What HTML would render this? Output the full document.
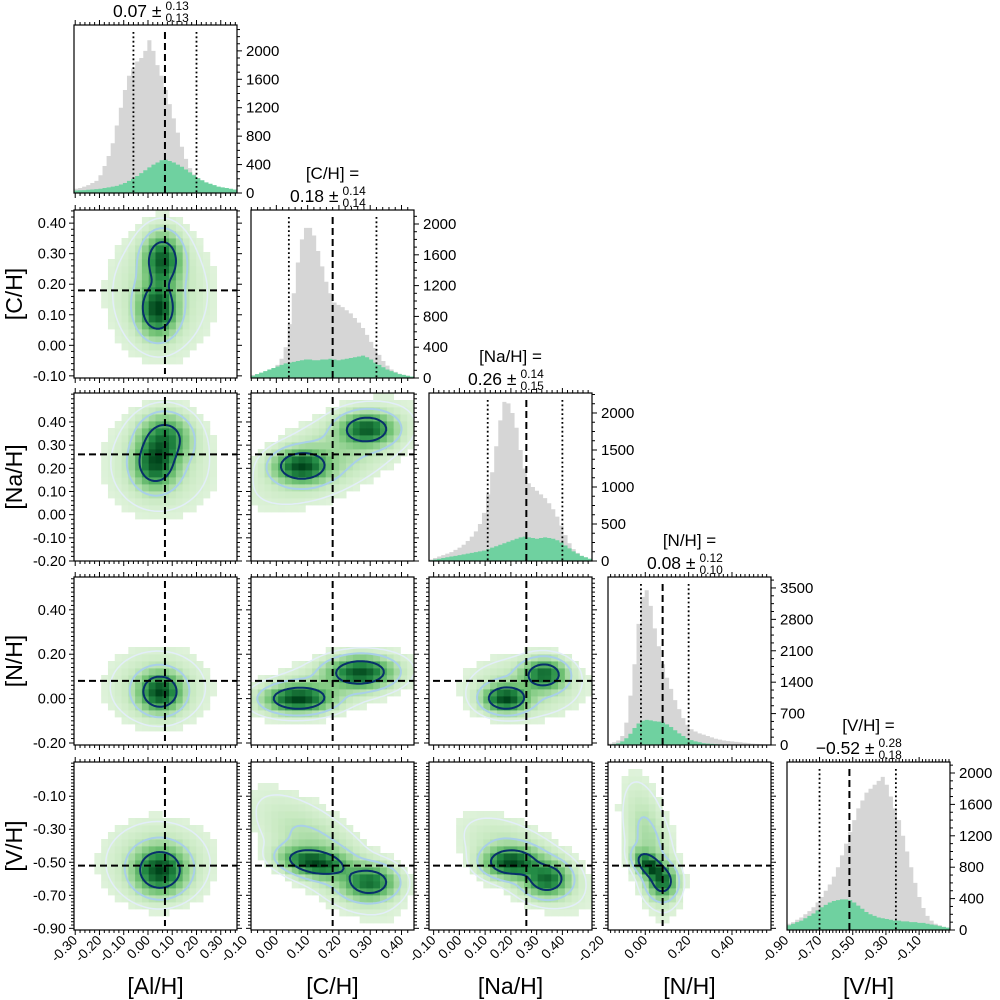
<!DOCTYPE html>
<html><head><meta charset="utf-8">
<style>
html,body{margin:0;padding:0;background:#fff;}
svg{display:block;font-family:"Liberation Sans","DejaVu Sans",sans-serif;}
</style></head>
<body>
<svg id="chart" width="1000" height="1000" viewBox="0 0 1000 1000" xmlns="http://www.w3.org/2000/svg"></svg>
<script>
// ---------- data ----------
const varNames = ["[Al/H]","[C/H]","[Na/H]","[N/H]","[V/H]"];
const medians = [0.07,0.18,0.26,0.08,-0.52];
const lowerQ = [-0.06,0.04,0.11,-0.02,-0.70];
const upperQ = [0.20,0.32,0.40,0.20,-0.24];
const titleVal = ["0.07","0.18","0.26","0.08","\u22120.52"];
const titleUp = ["0.13","0.14","0.14","0.12","0.28"];
const titleLo = ["0.13","0.14","0.15","0.10","0.18"];
const xRanges = [[-0.305,0.367],[-0.081,0.44],[-0.118,0.515],[-0.172,0.58],[-0.896,0.086]];
const yRanges = [null,[-0.107,0.443],[-0.2,0.525],[-0.209,0.548],[-0.91,0.107]];
const xTicks = [[-0.3,-0.2,-0.1,0,0.1,0.2,0.3],[-0.1,0,0.1,0.2,0.3,0.4],[-0.1,0,0.1,0.2,0.3,0.4],[-0.2,0,0.2,0.4],[-0.9,-0.7,-0.5,-0.3,-0.1]];
const yTicks = [null,[-0.1,0,0.1,0.2,0.3,0.4],[-0.2,-0.1,0,0.1,0.2,0.3,0.4],[-0.2,0,0.2,0.4],[-0.9,-0.7,-0.5,-0.3,-0.1]];
const histMax = [2364,2182,2270,3744,2140];
const histTickStep = [400,400,500,700,400];
const histTickMax = [2000,2000,2000,3500,2000];
const grayAl = [60,70,90,110,140,170,250,380,520,700,950,1200,1450,1650,1750,1850,1900,2000,2150,2000,1800,1650,1450,1250,1050,850,650,480,350,260,200,150,110,80,60,40,30,20,15,10];
const greenAl = [35,38,40,45,50,55,60,70,80,90,100,120,140,170,200,240,280,320,360,400,430,460,470,450,430,400,370,330,290,250,210,180,150,130,110,90,80,70,60,50];
const grayC = [40,50,60,70,90,120,170,250,400,700,1100,1500,1800,1950,1950,1850,1650,1450,1250,1100,980,950,920,880,840,780,720,650,560,470,390,300,220,160,110,80,55,40,30,20];
const greenC = [30,50,70,90,110,130,150,170,190,200,210,220,230,240,240,230,230,240,240,250,240,230,240,250,260,270,280,290,270,240,200,170,140,110,90,70,50,40,30,20];
const grayNa = [20,40,60,80,100,120,150,180,220,270,330,400,500,650,900,1200,1550,1900,2150,2130,2000,1800,1500,1250,1050,1000,950,900,850,780,700,600,480,350,240,160,110,70,40,20];
const greenNa = [10,20,30,40,50,60,70,80,90,100,110,120,130,140,160,180,200,220,240,260,280,300,320,330,320,310,300,310,320,310,300,280,250,210,170,130,100,70,50,30];
const grayN = [30,60,100,200,500,1100,1800,2700,3300,3450,3100,2600,2200,1800,1500,1250,1000,800,600,450,350,300,260,230,200,170,140,120,100,90,80,70,60,50,40,30,25,20,15,10];
const greenN = [10,20,40,80,150,250,380,480,540,560,550,530,520,500,460,400,330,260,200,150,110,80,60,40,30,25,20,15,12,10,8,6,5,4,3,2,2,1,1,0];
const grayV = [80,100,130,160,200,240,290,350,420,500,580,680,800,950,1100,1250,1400,1550,1650,1750,1800,1850,1900,1950,1850,1700,1550,1400,1200,1000,800,600,420,280,180,120,80,60,40,30];
const greenV = [60,80,100,120,150,180,210,250,290,320,350,370,380,390,390,380,350,310,270,230,200,180,160,150,140,130,120,120,110,110,100,100,90,90,80,70,60,50,40,30];
const grayHists = [grayAl,grayC,grayNa,grayN,grayV];
const greenHists = [greenAl,greenC,greenNa,greenN,greenV];
// 2D density components: [cx, cy, sx, sy, rho, weight]
const compAlC = [[0.04,0.12,0.045,0.05,0,1],[0.06,0.28,0.045,0.05,0,0.9],[0.05,0.17,0.12,0.12,0,0.15]];
const compAlNa = [[0.03,0.22,0.05,0.06,0,1],[0.07,0.33,0.06,0.06,0,0.8],[0.05,0.22,0.13,0.13,0,0.15]];
const compCNa = [[0.08,0.21,0.05,0.04,0,1],[0.29,0.37,0.05,0.04,0,0.9],[0.18,0.26,0.14,0.12,0.6,0.2]];
const compAlN = [[0.05,0.03,0.05,0.05,0,1],[0.04,0.05,0.12,0.1,0,0.15]];
const compCN = [[0.07,0.0,0.06,0.035,0,1],[0.27,0.12,0.06,0.04,0,0.9],[0.17,0.06,0.14,0.08,0.5,0.15]];
const compNaN = [[0.18,0.0,0.05,0.035,0,1],[0.33,0.11,0.05,0.04,0,0.8],[0.25,0.05,0.13,0.08,0,0.15]];
const compAlV = [[0.05,-0.55,0.06,0.08,0,1],[0.04,-0.5,0.13,0.15,0,0.15]];
const compCV = [[0.12,-0.5,0.06,0.05,-0.3,1],[0.3,-0.62,0.05,0.06,0,0.8],[0.15,-0.45,0.12,0.2,-0.7,0.2]];
const compNaV = [[0.2,-0.5,0.06,0.05,0,1],[0.34,-0.6,0.05,0.06,0,0.8],[0.25,-0.5,0.13,0.15,-0.6,0.2]];
const compNV = [[0.02,-0.52,0.04,0.05,-0.5,1],[0.08,-0.62,0.04,0.06,0,0.7],[0.02,-0.4,0.07,0.22,-0.5,0.2]];
const comps2D = {"1-0":compAlC,"2-0":compAlNa,"2-1":compCNa,"3-0":compAlN,"3-1":compCN,"3-2":compNaN,"4-0":compAlV,"4-1":compCV,"4-2":compNaV,"4-3":compNV};

// ---------- layout ----------
const colX = [74,251,429,608,787];
const rowY = [25,210,393,577,762];
const PW = 163, PH = 168;
const NS = "http://www.w3.org/2000/svg";
const svg = document.getElementById("chart");
function mk(tag, attrs, parent){
  const e = document.createElementNS(NS, tag);
  for (const k in attrs) e.setAttribute(k, attrs[k]);
  (parent||svg).appendChild(e);
  return e;
}
function xScale(i, v){ const r = xRanges[i]; return colX[i] + (v - r[0]) / (r[1] - r[0]) * PW; }
function yScale(j, v){ const r = yRanges[j]; return rowY[j] + PH - (v - r[0]) / (r[1] - r[0]) * PH; }
function fmt(v){ const s = Math.abs(v).toFixed(2); return (v < -1e-9 ? "-" : "") + s; }
const greens = [[247,252,245],[199,233,192],[116,196,118],[35,139,69],[0,68,27]];
function gcol(t){
  t = Math.max(0, Math.min(1, t)) * 4;
  const k = Math.min(3, Math.floor(t)), f = t - k;
  const a = greens[k], b = greens[k+1];
  return "rgb(" + a.map((c,n)=>Math.round(c + (b[n]-c)*f)).join(",") + ")";
}
function dens(comps, x, y){
  let s = 0;
  for (const c of comps){
    const dx = (x - c[0]) / c[2], dy = (y - c[1]) / c[3], r = c[4];
    s += c[5] * Math.exp(-(dx*dx - 2*r*dx*dy + dy*dy) / (2*(1 - r*r)));
  }
  return s;
}
function ticksX(i, j, top, labels){
  const g = mk("g", {});
  
  
  const r = xRanges[i];
  const y0 = rowY[j], y1 = rowY[j] + PH;
  for (let v = Math.ceil(r[0]/0.02)*0.02; v <= r[1]; v += 0.02){
    const vv = Math.round(v*100)/100;
    const major = xTicks[i].some(t => Math.abs(t - vv) < 1e-6);
    const L = major ? 5 : 3;
    const x = xScale(i, vv);
    mk("line", {x1:x, x2:x, y1:y1, y2:y1+L, stroke:"#000", "stroke-width":1}, g);
    if (top) mk("line", {x1:x, x2:x, y1:y0, y2:y0-L, stroke:"#000", "stroke-width":1}, g);
  }
  if (labels){
    for (const t of xTicks[i]){
      const x = xScale(i, t);
      const tx = mk("text", {x:x+3, y:y1+11, "font-size":13.5, "text-anchor":"end", transform:"rotate(-45 "+(x+3)+" "+(y1+11)+")"}, g);
      
      
      tx.textContent = fmt(t);
    }
  }
}
function ticksY2D(i, j, labels){
  const g = mk("g", {});
  
  
  const r = yRanges[j];
  const x0 = colX[i], x1 = colX[i] + PW;
  for (let v = Math.ceil(r[0]/0.02)*0.02; v <= r[1]; v += 0.02){
    const vv = Math.round(v*100)/100;
    const major = yTicks[j].some(t => Math.abs(t - vv) < 1e-6);
    const L = major ? 5 : 3;
    const y = yScale(j, vv);
    mk("line", {x1:x0, x2:x0-L, y1:y, y2:y, stroke:"#000", "stroke-width":1}, g);
    mk("line", {x1:x1, x2:x1+L, y1:y, y2:y, stroke:"#000", "stroke-width":1}, g);
  }
  if (labels){
    for (const t of yTicks[j]){
      const y = yScale(j, t);
      const tx = mk("text", {x:x0-8, y:y+5, "font-size":14.5, "text-anchor":"end"}, g);
      
      
      tx.textContent = fmt(t);
    }
  }
}
function contour(g, grid, N, px, py, level, color, w){
  let d = "";
  const lerp = (a, b) => (level - a) / (b - a);
  for (let a = 0; a < N - 1; a++){
    for (let b = 0; b < N - 1; b++){
      const v0 = grid[a][b], v1 = grid[a+1][b], v2 = grid[a+1][b+1], v3 = grid[a][b+1];
      const pts = [];
      if ((v0 >= level) !== (v1 >= level)) pts.push([a + lerp(v0, v1), b]);
      if ((v1 >= level) !== (v2 >= level)) pts.push([a + 1, b + lerp(v1, v2)]);
      if ((v2 >= level) !== (v3 >= level)) pts.push([a + 1 - lerp(v2, v3), b + 1]);
      if ((v3 >= level) !== (v0 >= level)) pts.push([a, b + 1 - lerp(v3, v0)]);
      for (let k = 0; k + 1 < pts.length; k += 2){
        d += "M" + px(pts[k][0]).toFixed(1) + "," + py(pts[k][1]).toFixed(1) + "L" + px(pts[k+1][0]).toFixed(1) + "," + py(pts[k+1][1]).toFixed(1);
      }
    }
  }
  const p = mk("path", {d:d, fill:"none", stroke:color, "stroke-width":w, "stroke-linecap":"round"}, g);
  
  
}

// ---------- 2D panels ----------
for (let j = 1; j < 5; j++){
  for (let i = 0; i < j; i++){
    const comps = comps2D[j + "-" + i];
    const g = mk("g", {});
    
    
    const cid = "clip" + j + i;
    const cp = mk("clipPath", {id:cid}, g);
    mk("rect", {x:colX[i], y:rowY[j], width:PW, height:PH}, cp);
    const inner = mk("g", {"clip-path":"url(#" + cid + ")"}, g);
    const N = 24;
    const xr = xRanges[i], yr = yRanges[j];
    const dx = (xr[1] - xr[0]) / N, dy = (yr[1] - yr[0]) / N;
    let vals = [], mx = 0;
    for (let a = 0; a < N; a++) for (let b = 0; b < N; b++){
      const v = dens(comps, xr[0] + (a + 0.5)*dx, yr[0] + (b + 0.5)*dy);
      vals.push([a, b, v]); if (v > mx) mx = v;
    }
    for (const [a, b, v] of vals){
      const t = v / mx;
      if (t < 0.02) continue;
      const x0 = xScale(i, xr[0] + a*dx), x1 = xScale(i, xr[0] + (a + 1)*dx);
      const y0 = yScale(j, yr[0] + (b + 1)*dy), y1 = yScale(j, yr[0] + b*dy);
      const rc = mk("rect", {x:x0, y:y0, width:x1 - x0 + 0.4, height:y1 - y0 + 0.4, fill:gcol(0.05 + Math.pow(t, 0.65)*0.95)}, inner);
      
      
    }
    const M = 64;
    const fx = (xr[1] - xr[0]) / (M - 1), fy = (yr[1] - yr[0]) / (M - 1);
    const grid = [];
    let gm = 0;
    for (let a = 0; a < M; a++){
      grid.push([]);
      for (let b = 0; b < M; b++){
        const v = dens(comps, xr[0] + a*fx, yr[0] + b*fy);
        grid[a].push(v); if (v > gm) gm = v;
      }
    }
    const px = a => xScale(i, xr[0] + a*fx), py = b => yScale(j, yr[0] + b*fy);
    contour(inner, grid, M, px, py, gm*0.035, "#e3eef9", 1.5);
    contour(inner, grid, M, px, py, gm*0.12, "#a9cfe8", 2);
    contour(inner, grid, M, px, py, gm*0.45, "#08306b", 2);
    const vl = mk("line", {x1:xScale(i, medians[i]), x2:xScale(i, medians[i]), y1:rowY[j] + 4, y2:rowY[j] + PH - 4, stroke:"#000", "stroke-width":2, "stroke-dasharray":"7,4"}, inner);
    
    
    const hl = mk("line", {x1:colX[i] + 4, x2:colX[i] + PW, y1:yScale(j, medians[j]), y2:yScale(j, medians[j]), stroke:"#000", "stroke-width":2, "stroke-dasharray":"7,4"}, inner);
    
    
    const fr = mk("rect", {x:colX[i], y:rowY[j], width:PW, height:PH, fill:"none", stroke:"#000", "stroke-width":1.2}, g);
    
    
    ticksX(i, j, true, j === 4);
    ticksY2D(i, j, i === 0);
  }
}

// ---------- 1D histograms ----------
for (let i = 0; i < 5; i++){
  const g = mk("g", {});
  
  
  const x0 = colX[i], y0 = rowY[i];
  const yb = y0 + PH;
  const hy = v => yb - v / histMax[i] * PH;
  const r = xRanges[i];
  function stepPath(arr){
    const n = arr.length, bw = (r[1] - r[0]) / n;
    let d = "M" + xScale(i, r[0]) + "," + yb;
    arr.forEach((v, k) => {
      d += " L" + xScale(i, r[0] + k*bw) + "," + hy(v) + " L" + xScale(i, r[0] + (k + 1)*bw) + "," + hy(v);
    });
    return d + " L" + xScale(i, r[1]) + "," + yb + " Z";
  }
  const gp = mk("path", {d:stepPath(grayHists[i]), fill:"#d6d6d6"}, g);
  
  
  const gr = mk("path", {d:stepPath(greenHists[i]), fill:"#6fd1a0"}, g);
  
  
  const ml = mk("line", {x1:xScale(i, medians[i]), x2:xScale(i, medians[i]), y1:y0 + 7, y2:yb, stroke:"#000", "stroke-width":2, "stroke-dasharray":"7,4"}, g);
  
  
  for (const q of [lowerQ[i], upperQ[i]]){
    const ql = mk("line", {x1:xScale(i, q), x2:xScale(i, q), y1:y0 + 7, y2:yb, stroke:"#000", "stroke-width":1.8, "stroke-dasharray":"1.8,2.6"}, g);
    
    
  }
  const fr = mk("rect", {x:x0, y:y0, width:PW, height:PH, fill:"none", stroke:"#000", "stroke-width":1.2}, g);
  
  
  ticksX(i, i, true, i === 4);
  const st = histTickStep[i];
  for (let v = 0; v <= histMax[i]; v += st/4){
    const major = Math.abs(v / st - Math.round(v / st)) < 1e-6;
    const y = hy(v);
    mk("line", {x1:x0 + PW, x2:x0 + PW + (major ? 5 : 3), y1:y, y2:y, stroke:"#000", "stroke-width":1}, g);
  }
  for (let v = 0; v <= histTickMax[i]; v += st){
    const t = mk("text", {x:x0 + PW + 9, y:hy(v) + 5, "font-size":15}, g);
    
    
    t.textContent = String(v);
  }
  const cx = x0 + PW/2;
  const t1 = mk("text", {x:cx, y:y0 - 31, "font-size":17, "text-anchor":"middle"}, g);
  
  
  t1.textContent = varNames[i] + " =";
  const t2 = mk("text", {x:cx + 6, y:y0 - 8, "font-size":17.5, "text-anchor":"end"}, g);
  
  
  t2.textContent = titleVal[i] + " \u00b1";
  const t3 = mk("text", {x:cx + 10, y:y0 - 15, "font-size":12}, g);
  
  
  t3.textContent = titleUp[i];
  const t4 = mk("text", {x:cx + 10, y:y0 - 3, "font-size":12}, g);
  
  
  t4.textContent = titleLo[i];
}

// ---------- axis titles ----------
for (let i = 0; i < 5; i++){
  const t = mk("text", {x:colX[i] + PW/2, y:994, "font-size":23, "text-anchor":"middle"});
  
  
  t.textContent = varNames[i];
}
for (let j = 1; j < 5; j++){
  const y = rowY[j] + PH/2;
  const t = mk("text", {x:22, y:y, "font-size":23, "text-anchor":"middle", transform:"rotate(-90 22 " + y + ")"});
  
  
  t.textContent = varNames[j];
}
</script>
</body></html>
